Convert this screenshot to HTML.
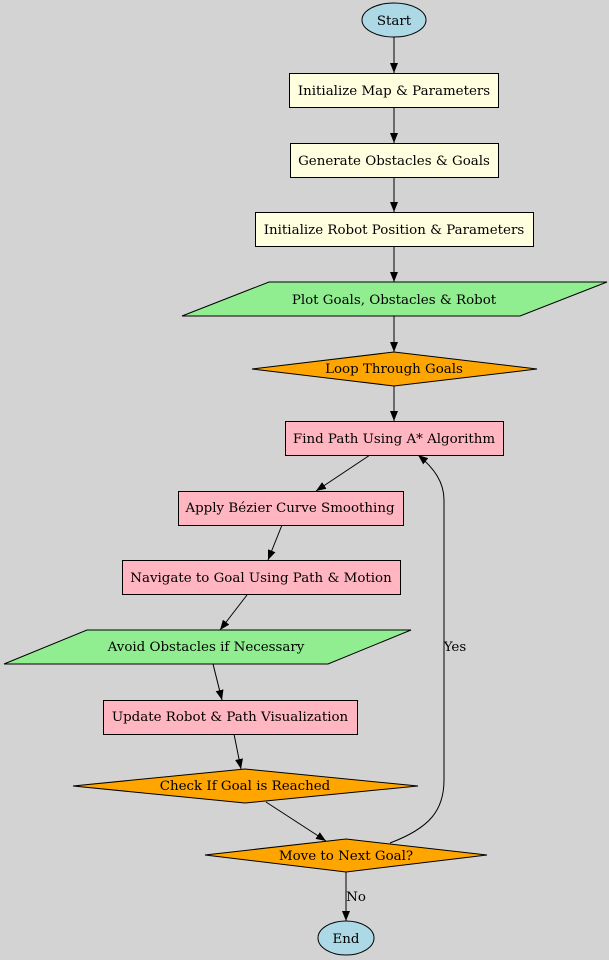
<!DOCTYPE html>
<html><head><style>html,body{margin:0;padding:0;background:#d3d3d3;overflow:hidden}svg{display:block}</style></head>
<body>
<svg width="609" height="960" viewBox="0 0 609 960" xmlns="http://www.w3.org/2000/svg" font-family="'DejaVu Serif','Liberation Serif',serif" font-size="13.4">
<defs><marker id="a" markerWidth="10" markerHeight="8" refX="10" refY="4" orient="auto" markerUnits="userSpaceOnUse"><path d="M0,0 L10,4 L0,8 z" fill="#000"/></marker></defs>
<rect width="609" height="960" fill="#d3d3d3"/>
<g stroke="#000" stroke-width="1" fill="none" marker-end="url(#a)">
<line x1="394" y1="37" x2="394" y2="73"/>
<line x1="394" y1="107" x2="394" y2="143"/>
<line x1="394" y1="177" x2="394" y2="212"/>
<line x1="394" y1="246" x2="394" y2="282"/>
<line x1="394" y1="316" x2="394" y2="352"/>
<line x1="394" y1="386" x2="394" y2="421"/>
<line x1="370" y1="455" x2="316" y2="491"/>
<line x1="282" y1="525" x2="268" y2="560"/>
<line x1="247" y1="595" x2="220" y2="630"/>
<line x1="213" y1="664" x2="222" y2="700"/>
<line x1="234" y1="734" x2="241" y2="769"/>
<line x1="266" y1="802" x2="326" y2="841"/>
<line x1="346" y1="872" x2="346" y2="921"/>
<path d="M390,843 C430,828 444,810 444,780 L444,500 C444,482 434,468 418,455"/>
</g>
<g stroke="#000" stroke-width="1">
<ellipse cx="394" cy="20" rx="32" ry="17" fill="#add8e6"/>
<rect x="289.5" y="73.5" width="209" height="34" fill="#ffffe0"/>
<rect x="290.5" y="143.5" width="208" height="34" fill="#ffffe0"/>
<rect x="255.5" y="212.5" width="278" height="34" fill="#ffffe0"/>
<polygon points="269,282 607,282 520,316 182,316" fill="#90ee90"/>
<polygon points="394,352 537,369 394,386 252,369" fill="#ffa500"/>
<rect x="285.5" y="421.5" width="218" height="34" fill="#ffb6c1"/>
<rect x="178.5" y="491.5" width="225" height="34" fill="#ffb6c1"/>
<rect x="122.5" y="560.5" width="278" height="34" fill="#ffb6c1"/>
<polygon points="87,630 411,630 328,664 4,664" fill="#90ee90"/>
<rect x="103.5" y="700.5" width="254" height="34" fill="#ffb6c1"/>
<polygon points="245,769 418,786 245,803 73,786" fill="#ffa500"/>
<polygon points="346,839 487,855 346,872 205,855" fill="#ffa500"/>
<ellipse cx="346" cy="938" rx="28" ry="17" fill="#add8e6"/>
</g>
<g text-anchor="middle" fill="#000">
<text x="394" y="25">Start</text>
<text x="394" y="95">Initialize Map &amp; Parameters</text>
<text x="394" y="165">Generate Obstacles &amp; Goals</text>
<text x="394" y="234">Initialize Robot Position &amp; Parameters</text>
<text x="394" y="304">Plot Goals, Obstacles &amp; Robot</text>
<text x="394" y="373">Loop Through Goals</text>
<text x="394" y="443">Find Path Using A* Algorithm</text>
<text x="290" y="512">Apply Bézier Curve Smoothing</text>
<text x="261" y="582">Navigate to Goal Using Path &amp; Motion</text>
<text x="206" y="651">Avoid Obstacles if Necessary</text>
<text x="230" y="721">Update Robot &amp; Path Visualization</text>
<text x="245" y="790">Check If Goal is Reached</text>
<text x="346" y="860">Move to Next Goal?</text>
<text x="346" y="943">End</text>
<text x="455" y="651">Yes</text>
<text x="356" y="901">No</text>
</g>
</svg>
</body></html>
